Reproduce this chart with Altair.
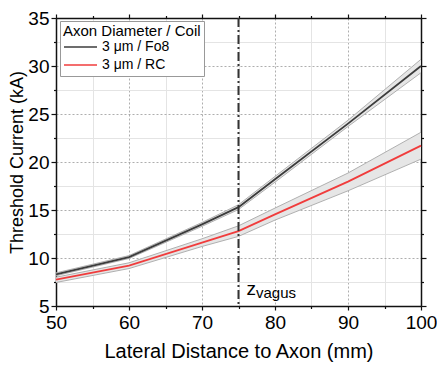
import altair as alt
import pandas as pd

# ---- data ----
dist = [50, 60, 70, 75, 80, 90, 100]
fo8 = [8.3, 10.1, 13.5, 15.3, 18.2, 24.0, 30.0]
fo8_lo = [8.15, 9.95, 13.3, 15.05, 17.9, 23.7, 29.3]
fo8_hi = [8.45, 10.25, 13.7, 15.55, 18.5, 24.35, 30.7]
rc = [7.75, 9.2, 11.6, 12.8, 14.55, 17.95, 21.7]
rc_lo = [7.45, 8.9, 11.2, 12.25, 13.95, 17.0, 20.3]
rc_hi = [8.0, 9.5, 12.0, 13.35, 15.2, 18.85, 23.1]
series_names = ["3 μm / Fo8", "3 μm / RC"]
series_colors = ["#3c3c3c", "#f03c3c"]
x_major = [50, 60, 70, 80, 90, 100]
x_minor = [55, 65, 75, 85, 95]
y_major = [5, 10, 15, 20, 25, 30, 35]
y_minor = [7.5, 12.5, 17.5, 22.5, 27.5, 32.5]
z_vagus_x = 75

FONT = "Liberation Sans"

rows = []
for name, m, lo, hi in [(series_names[0], fo8, fo8_lo, fo8_hi),
                        (series_names[1], rc, rc_lo, rc_hi)]:
    for xi, mi, li, hi_ in zip(dist, m, lo, hi):
        rows.append({"x": xi, "y": mi, "lo": li, "hi": hi_, "series": name})
df = pd.DataFrame(rows)

edges = pd.concat([
    df.assign(v=df["lo"], edge=df["series"] + "_lo"),
    df.assign(v=df["hi"], edge=df["series"] + "_hi"),
])

xs = alt.Scale(domain=[50, 100], nice=False, zero=False)
ys = alt.Scale(domain=[5, 35], nice=False, zero=False)

main_x_axis = alt.Axis(orient="bottom", values=x_major, tickSize=4, tickWidth=1.2, tickColor="#111",
                       domainColor="#111", domainWidth=1.5, labelFontSize=19, labelFont=FONT,
                       labelColor="black", labelPadding=3, labelFlush=False, labelOverlap=False,
                       title="Lateral Distance to Axon (mm)", titleFont=FONT, titleFontSize=20,
                       titleFontWeight="normal", titleColor="black", titlePadding=9,
                       grid=True, gridDash=[2, 2], gridColor="#999", gridWidth=0.8)
main_y_axis = alt.Axis(orient="left", values=y_major, tickSize=5, tickWidth=1.2, tickColor="#111",
                       domainColor="#111", domainWidth=1.5, labelFontSize=19, labelFont=FONT,
                       labelColor="black", labelPadding=2, labelFlush=False, labelOverlap=False,
                       title="Threshold Current (kA)", titleFont=FONT, titleFontSize=18,
                       titleFontWeight="normal", titleColor="black", titlePadding=1,
                       grid=True, gridDash=[2, 2], gridColor="#999", gridWidth=0.8)

bands = alt.Chart(df).mark_area(color="#e6e6e6", opacity=1).encode(
    x=alt.X("x:Q", scale=xs, axis=main_x_axis),
    y=alt.Y("lo:Q", scale=ys, axis=main_y_axis),
    y2="hi:Q",
    detail="series:N",
)

band_edges = alt.Chart(edges).mark_line(color="#b0b0b0", strokeWidth=1).encode(
    x=alt.X("x:Q", scale=xs, axis=None),
    y=alt.Y("v:Q", scale=ys, axis=None),
    detail="edge:N",
)

lines = alt.Chart(df).mark_line(strokeWidth=1.8).encode(
    x=alt.X("x:Q", scale=xs, axis=None),
    y=alt.Y("y:Q", scale=ys, axis=None),
    color=alt.Color("series:N",
                    scale=alt.Scale(domain=series_names, range=series_colors),
                    legend=alt.Legend(orient="none", legendX=4, legendY=3,
                                      title="Axon Diameter / Coil", titleFont=FONT,
                                      titleFontSize=15, titleFontWeight="normal",
                                      titleColor="black", labelFont=FONT, labelFontSize=14,
                                      labelColor="black", symbolType="stroke",
                                      symbolSize=1089, symbolStrokeWidth=1.5,
                                      clipHeight=16,
                                      fillColor="white", strokeColor="#999",
                                      padding=3, rowPadding=2, titlePadding=0,
                                      labelOffset=4, cornerRadius=0)),
)

rule = alt.Chart(pd.DataFrame({"x": [z_vagus_x]})).mark_rule(
    color="#333", strokeWidth=2, strokeDash=[9, 3, 2, 3]
).encode(x=alt.X("x:Q", scale=xs, axis=None))

z_txt = alt.Chart(pd.DataFrame({"x": [z_vagus_x], "y": [6.1], "t": ["z"]})).mark_text(
    align="left", baseline="alphabetic", dx=8, fontSize=19, font=FONT, color="black"
).encode(x=alt.X("x:Q", scale=xs, axis=None), y=alt.Y("y:Q", scale=ys, axis=None), text="t:N")

sub_txt = alt.Chart(pd.DataFrame({"x": [z_vagus_x], "y": [5.85], "t": ["vagus"]})).mark_text(
    align="left", baseline="alphabetic", dx=17.5, fontSize=15, font=FONT, color="black"
).encode(x=alt.X("x:Q", scale=xs, axis=None), y=alt.Y("y:Q", scale=ys, axis=None), text="t:N")

dummy = pd.DataFrame({"x": [50], "y": [5]})

def axis_layer(xaxis, yaxis):
    return alt.Chart(dummy).mark_point(opacity=0).encode(
        x=alt.X("x:Q", scale=xs, axis=xaxis),
        y=alt.Y("y:Q", scale=ys, axis=yaxis),
    )

minor_grid = axis_layer(
    alt.Axis(values=x_minor, orient="bottom", tickSize=2.5, tickWidth=1.2, tickColor="#111",
             labels=False, domain=False, title=None, grid=True, gridColor="#e4e4e4", gridWidth=1),
    alt.Axis(values=y_minor, orient="left", tickSize=2.5, tickWidth=1.2, tickColor="#111",
             labels=False, domain=False, title=None, grid=True, gridColor="#e4e4e4", gridWidth=1),
)
top_right = axis_layer(
    alt.Axis(values=x_major, orient="top", tickSize=4, tickWidth=1.2, tickColor="#111",
             labels=False, domain=True, domainColor="#111", domainWidth=1.5, title=None, grid=False),
    alt.Axis(values=y_major, orient="right", tickSize=5, tickWidth=1.2, tickColor="#111",
             labels=False, domain=True, domainColor="#111", domainWidth=1.5, title=None, grid=False),
)
top_right_minor = axis_layer(
    alt.Axis(values=x_minor, orient="top", tickSize=2.5, tickWidth=1.2, tickColor="#111",
             labels=False, domain=False, title=None, grid=False),
    alt.Axis(values=y_minor, orient="right", tickSize=2.5, tickWidth=1.2, tickColor="#111",
             labels=False, domain=False, title=None, grid=False),
)

chart = alt.layer(
    minor_grid, bands, band_edges, lines, rule, z_txt, sub_txt, top_right, top_right_minor
).resolve_axis(x="independent", y="independent").properties(
    width=365, height=288,
    autosize=alt.AutoSizeParams(type="none"),
    padding={"left": 48, "top": 10, "right": 16, "bottom": 58},
).configure_view(stroke=None).configure(font=FONT)

chart.save("out.html", embed_options={"renderer": "svg", "actions": False})
